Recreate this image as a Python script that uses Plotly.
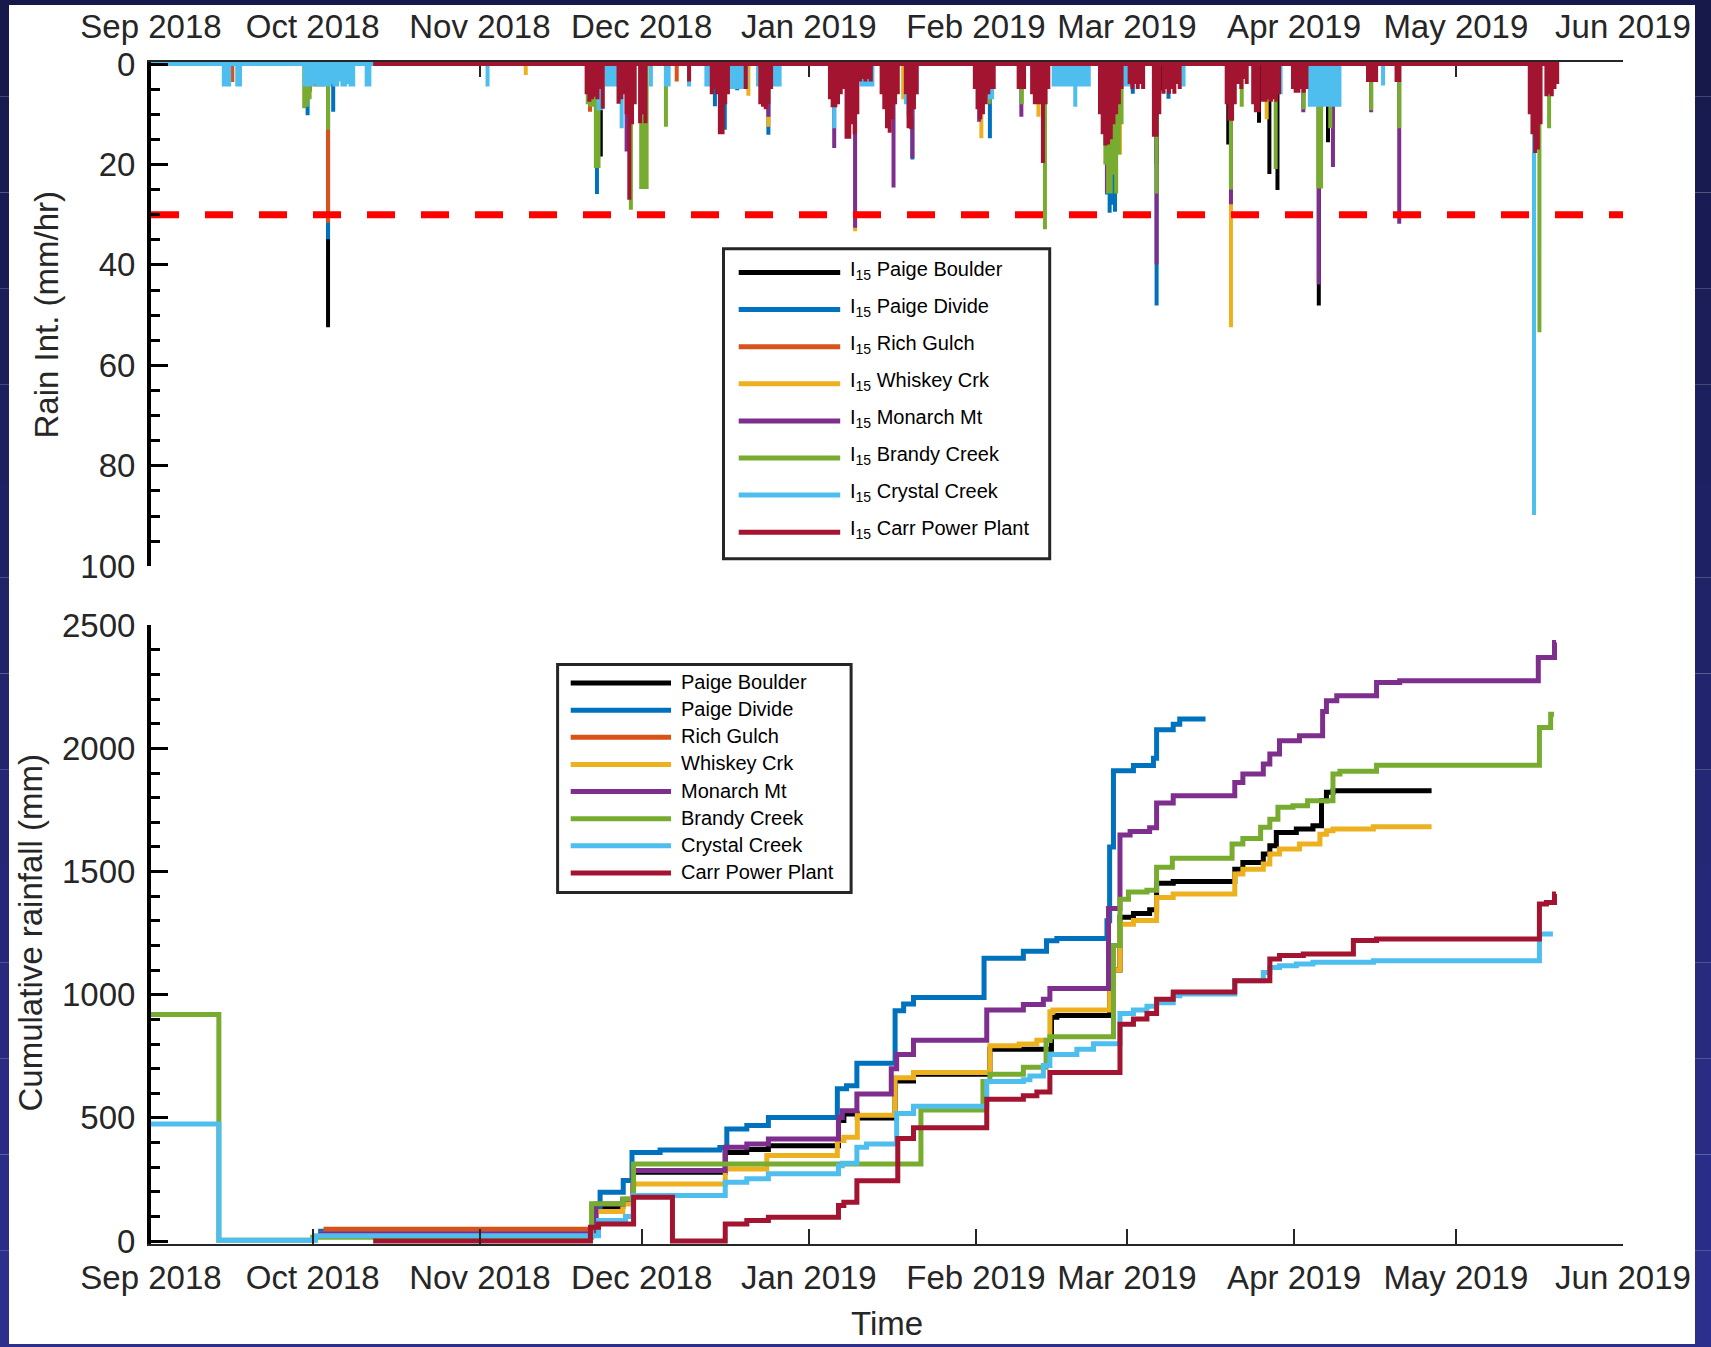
import pandas as pd
import plotly.graph_objects as go

FONT = "Liberation Sans, Arial, Helvetica, sans-serif"
INK = "#262626"

STATIONS = ["Paige Boulder", "Paige Divide", "Rich Gulch", "Whiskey Crk",
            "Monarch Mt", "Brandy Creek", "Crystal Creek", "Carr Power Plant"]
COLORS = ["#000000", "#0072BD", "#D95319", "#EDB120",
          "#7E2F8E", "#77AC30", "#4DBEEE", "#A2142F"]

# ---------------------------------------------------------------------------
# 15-minute rain intensity I15 (mm/hr).
# Record window of each gauge, then bursts: (start time, [I15 values]),
# consecutive values in a burst are 12 h apart.
# ---------------------------------------------------------------------------
I15_STEP_H = 12

PB_SPAN = ("2018-10-02", "2019-04-26 12:00")
PB_I15 = [
    ("2018-10-03 20:00", [52.4]),
    ("2018-11-23 10:00", [18.4]),
    ("2019-03-06 12:00", [20.0]),
    ("2019-03-07 12:00", [5.2]),
    ("2019-03-19 19:00", [16.0]),
    ("2019-03-25 12:00", [11.7]),
    ("2019-03-27 10:00", [21.9]),
    ("2019-03-28 22:00", [25.1]),
    ("2019-04-05 14:00", [48.1]),
    ("2019-04-07 07:00", [15.6]),
]

PD_SPAN = ("2018-09-14", "2019-03-15 14:00")
PD_I15 = [
    ("2018-09-30 01:00", [10.2]),
    ("2018-10-03 20:00", [34.9]),
    ("2018-10-04 19:00", [9.5]),
    ("2018-11-22 17:00", [25.9]),
    ("2018-12-14 14:00", [8.4]),
    ("2018-12-16 10:00", [13.1]),
    ("2018-12-18 17:00", [5.2]),
    ("2018-12-24 12:00", [14.1]),
    ("2019-01-20 05:00", [19.0]),
    ("2019-02-03 14:00", [14.8]),
    ("2019-02-25 07:00", [26.0, 29.6, 28.0, 29.4]),
    ("2019-03-02 02:00", [5.9]),
    ("2019-03-06 12:00", [48.1]),
    ("2019-03-08 17:00", [6.9]),
]

RG_SPAN = ("2018-09-01", "2018-12-10")
RG_I15 = [
    ("2018-09-16 02:00", [3.6]),
    ("2018-09-30 12:00", [5.5]),
    ("2018-10-03 20:00", [31.6]),
    ("2018-11-21 10:00", [9.5]),
    ("2018-12-07 12:00", [3.5]),
]

WC_SPAN = ("2018-10-02", "2019-04-26 12:00")
WC_I15 = [
    ("2018-11-09 12:00", [2.2]),
    ("2018-12-20 19:00", [6.3]),
    ("2018-12-24 12:00", [12.5]),
    ("2019-01-09 14:00", [33.3]),
    ("2019-01-18 12:00", [7.0]),
    ("2019-02-02 00:00", [14.8]),
    ("2019-02-12 14:00", [10.5]),
    ("2019-02-27 17:00", [18.0]),
    ("2019-03-20 07:00", [52.4]),
    ("2019-03-26 22:00", [11.0]),
]

MM_SPAN = ("2018-10-02", "2019-05-19 14:00")
MM_I15 = [
    ("2018-11-28 05:00", [17.4]),
    ("2018-12-24 12:00", [10.5]),
    ("2019-01-05 17:00", [16.7]),
    ("2019-01-09 14:00", [32.6]),
    ("2019-01-16 17:00", [24.6]),
    ("2019-01-20 05:00", [18.7]),
    ("2019-02-01 14:00", [11.5]),
    ("2019-02-09 10:00", [10.5]),
    ("2019-02-25 07:00", [25.5]),
    ("2019-03-06 12:00", [39.9]),
    ("2019-03-20 07:00", [27.9]),
    ("2019-04-02 17:00", [9.6]),
    ("2019-04-05 14:00", [43.9]),
    ("2019-04-08 05:00", [20.5]),
    ("2019-04-15 07:00", [9.6]),
    ("2019-04-20 12:00", [31.8]),
]

BC_SPAN = ("2018-09-01", "2019-05-19 14:00")
BC_I15 = [
    ("2018-09-29 10:00", [8.8, 8.5, 7.0]),
    ("2018-10-01 10:00", [4.5, 4.5, 4.5, 4.5]),
    ("2018-10-03 20:00", [13.1]),
    ("2018-11-21 00:00", [8.0, 8.5, 8.5, 20.7, 20.7]),
    ("2018-11-29 00:00", [29.0]),
    ("2018-11-30 22:00", [24.9, 24.9, 24.9]),
    ("2018-12-05 12:00", [12.5]),
    ("2019-02-03 12:00", [7.9]),
    ("2019-02-09 12:00", [8.0]),
    ("2019-02-13 19:00", [32.9]),
    ("2019-02-25 00:00", [20.0, 25.8, 25.8, 22.0, 25.8, 18.0, 12.0]),
    ("2019-03-06 12:00", [25.8]),
    ("2019-03-20 07:00", [25.0]),
    ("2019-03-22 07:00", [8.5]),
    ("2019-03-28 14:00", [20.9]),
    ("2019-04-02 19:00", [9.0]),
    ("2019-04-05 12:00", [24.8, 24.8]),
    ("2019-04-07 17:00", [12.8]),
    ("2019-04-15 07:00", [9.2]),
    ("2019-04-20 12:00", [12.8]),
    ("2019-05-16 12:00", [53.4]),
    ("2019-05-18 07:00", [12.8]),
]

CC_SPAN = ("2018-09-01", "2019-05-20")
CC_I15 = [
    ("2018-09-14 12:00", [4.5, 4.5, 4.5]),
    ("2018-09-17 00:00", [4.5, 4.5]),
    ("2018-09-29 12:00", [4.5, 4.5, 4.5, 4.5, 4.0, 4.5, 4.5, 4.5, 4.5, 4.5,
                          4.0, 4.5, 4.5, 3.5, 4.5, 4.5, 4.0, 4.5, 4.5]),
    ("2018-10-11 00:00", [4.5, 4.5]),
    ("2018-11-02 10:00", [4.5]),
    ("2018-11-23 00:00", [9.2, 9.2]),
    ("2018-11-24 12:00", [4.5, 4.5, 4.5, 4.5, 4.5]),
    ("2018-11-27 07:00", [12.8]),
    ("2018-12-02 17:00", [4.5]),
    ("2018-12-05 12:00", [4.5, 4.5]),
    ("2018-12-09 19:00", [4.5]),
    ("2018-12-13 00:00", [4.5, 4.5, 4.5]),
    ("2018-12-17 10:00", [5.0, 5.0, 5.0, 5.0, 5.0, 5.0, 5.0]),
    ("2018-12-22 14:00", [4.5, 4.5, 4.5, 4.5, 4.5, 4.5, 4.5, 4.5, 4.5]),
    ("2019-01-05 17:00", [12.8]),
    ("2019-01-10 19:00", [4.5, 4.5, 4.5, 4.5, 4.5]),
    ("2019-01-19 00:00", [8.0, 10.5, 10.5, 8.0, 6.0]),
    ("2019-02-02 00:00", [7.0, 7.0, 7.0, 7.0, 7.0]),
    ("2019-02-15 10:00", [4.5, 4.5, 4.5, 4.5, 4.5, 4.5, 4.5, 4.5, 8.5, 4.5,
                          4.5, 4.5, 4.5, 4.5]),
    ("2019-02-28 10:00", [4.5, 4.5, 4.5]),
    ("2019-03-11 12:00", [4.5]),
    ("2019-03-29 12:00", [6.0]),
    ("2019-04-03 22:00", [8.5, 8.5, 8.5, 8.5, 8.5, 8.5, 8.5, 8.5, 8.5, 8.5,
                          8.5, 8.5]),
    ("2019-04-17 12:00", [4.3]),
    ("2019-05-15 12:00", [89.8]),
]

CARR_SPAN = ("2018-10-12 05:00", "2019-05-20")
CARR_I15 = [
    ("2018-11-20 19:00", [6.0, 7.5, 7.0, 6.5, 7.0, 5.0, 8.9]),
    ("2018-11-26 17:00", [7.9, 7.0, 6.0]),
    ("2018-11-28 05:00", [10.0, 27.0, 12.0, 8.0]),
    ("2018-11-30 17:00", [11.8, 10.0, 11.8]),
    ("2018-12-09 19:00", [3.5]),
    ("2018-12-14 00:00", [6.0, 5.0, 6.0, 14.0, 14.0, 8.0, 6.0]),
    ("2018-12-20 07:00", [5.0]),
    ("2018-12-23 00:00", [8.0, 8.5, 9.0, 8.0, 5.0]),
    ("2019-01-04 22:00", [7.0, 8.6, 8.6, 8.0, 6.0, 5.0]),
    ("2019-01-08 00:00", [14.9, 14.9, 12.0, 14.0, 10.0]),
    ("2019-01-10 12:00", [3.5, 3.0, 3.5, 3.0, 3.5]),
    ("2019-01-14 12:00", [6.0, 9.0, 12.8, 13.7, 11.0, 8.0, 6.0]),
    ("2019-01-19 00:00", [6.0, 12.8, 13.0, 9.0, 6.0]),
    ("2019-01-31 19:00", [5.0, 9.0, 11.0, 10.0, 8.0, 6.0, 5.0, 5.0]),
    ("2019-02-08 22:00", [5.0, 5.0, 5.0]),
    ("2019-02-11 10:00", [6.0, 8.0, 8.0, 8.0, 19.7, 8.0, 5.0]),
    ("2019-02-24 00:00", [10.0, 14.0, 16.2, 16.0, 15.0, 12.0, 10.0, 8.0, 5.0]),
    ("2019-03-01 12:00", [4.0, 5.0, 4.0, 5.0, 4.0, 5.0]),
    ("2019-03-06 00:00", [14.5, 14.5, 10.0]),
    ("2019-03-07 19:00", [5.9, 5.0, 5.9, 5.0, 5.9, 4.0, 5.0]),
    ("2019-03-19 12:00", [8.0, 11.3, 11.3, 8.0]),
    ("2019-03-21 17:00", [4.0, 5.0, 3.0, 4.0]),
    ("2019-03-24 10:00", [8.0, 9.6, 9.6]),
    ("2019-03-26 05:00", [7.5, 7.5, 7.0, 7.5, 7.0, 7.5, 6.0]),
    ("2019-03-31 19:00", [5.0, 5.7, 5.7, 5.0, 5.7, 5.0]),
    ("2019-04-14 17:00", [3.6, 3.6, 3.6, 3.6]),
    ("2019-04-20 00:00", [3.6, 3.6]),
    ("2019-05-14 17:00", [10.0, 14.0, 17.7, 17.0, 12.0]),
    ("2019-05-17 19:00", [6.4, 6.0, 6.4, 5.0, 4.0]),
]

I15_THRESHOLD = 30.0  # mm/hr

# ---------------------------------------------------------------------------
# Cumulative rainfall (mm): (time, total from that time on)
# ---------------------------------------------------------------------------
PB_CUM = [("2018-10-02", 30), ("2018-11-22 12:00", 140), ("2018-11-27 12:00", 160),
          ("2018-11-29 10:00", 279), ("2018-12-16 12:00", 360), ("2018-12-20 12:00", 372),
          ("2018-12-24 12:00", 387), ("2019-01-06 12:00", 489), ("2019-01-07 12:00", 516),
          ("2019-01-10", 500), ("2019-01-17", 650), ("2019-01-20 10:00", 677),
          ("2019-02-03 14:00", 779), ("2019-02-15", 909), ("2019-02-16", 916),
          ("2019-02-25 19:00", 1100), ("2019-02-27 17:00", 1315), ("2019-03-02 05:00", 1330),
          ("2019-03-05 05:00", 1345), ("2019-03-06 12:00", 1453), ("2019-03-09 14:00", 1460),
          ("2019-03-21", 1510), ("2019-03-22 12:00", 1537), ("2019-03-26 07:00", 1571),
          ("2019-03-27 12:00", 1605), ("2019-03-28 17:00", 1659), ("2019-04-01 10:00", 1673),
          ("2019-04-04 12:00", 1686), ("2019-04-06 02:00", 1788), ("2019-04-07", 1822),
          ("2019-04-08 05:00", 1828), ("2019-04-26 12:00", 1828)]

PD_CUM = [("2018-10-02", 40), ("2018-11-22", 137), ("2018-11-23 07:00", 198),
          ("2018-11-27 14:00", 246), ("2018-11-29 05:00", 360), ("2018-12-04 10:00", 370),
          ("2018-12-15 12:00", 380), ("2018-12-16 19:00", 455), ("2018-12-20 12:00", 469),
          ("2018-12-24 12:00", 502), ("2019-01-06 07:00", 618), ("2019-01-08", 631),
          ("2019-01-09 22:00", 722), ("2019-01-17", 935), ("2019-01-18 14:00", 962),
          ("2019-01-20 10:00", 989), ("2019-02-02 12:00", 1148), ("2019-02-09 19:00", 1177),
          ("2019-02-14 02:00", 1219), ("2019-02-16", 1228), ("2019-02-25 07:00", 1300),
          ("2019-02-25 19:00", 1600), ("2019-02-26 12:00", 1909), ("2019-03-02 05:00", 1931),
          ("2019-03-05 22:00", 1960), ("2019-03-06 12:00", 2076), ("2019-03-09 14:00", 2098),
          ("2019-03-10 19:00", 2120), ("2019-03-15 14:00", 2120)]

RG_CUM = [("2018-10-03", 48), ("2018-11-22", 48)]

WC_CUM = [("2018-10-02", 30), ("2018-11-22 12:00", 120), ("2018-11-27 12:00", 150),
          ("2018-11-29 10:00", 232), ("2018-12-16 12:00", 293), ("2018-12-24 05:00", 347),
          ("2019-01-06 07:00", 408), ("2019-01-07 12:00", 421), ("2019-01-10", 511),
          ("2019-01-17", 663), ("2019-01-20 10:00", 684), ("2019-02-03 14:00", 793),
          ("2019-02-09", 800), ("2019-02-12 07:00", 815), ("2019-02-14 17:00", 931),
          ("2019-02-15 07:00", 938), ("2019-02-25 19:00", 1100), ("2019-02-27 17:00", 1286),
          ("2019-03-02 05:00", 1301), ("2019-03-06 12:00", 1395), ("2019-03-09 14:00", 1409),
          ("2019-03-21", 1490), ("2019-03-22 12:00", 1510), ("2019-03-26 07:00", 1531),
          ("2019-03-27 12:00", 1571), ("2019-03-29 07:00", 1592), ("2019-04-02", 1612),
          ("2019-04-05 19:00", 1652), ("2019-04-07", 1666), ("2019-04-08 05:00", 1673),
          ("2019-04-15 17:00", 1682), ("2019-04-26 12:00", 1682)]

MM_CUM = [("2018-10-02", 30), ("2018-11-22 12:00", 150), ("2018-11-27 12:00", 170),
          ("2018-11-29 10:00", 286), ("2018-12-16 12:00", 381), ("2018-12-20 12:00", 394),
          ("2018-12-24 12:00", 414), ("2019-01-06 12:00", 502), ("2019-01-07 05:00", 529),
          ("2019-01-09 22:00", 597), ("2019-01-16 07:00", 700), ("2019-01-17 07:00", 757),
          ("2019-01-20 10:00", 815), ("2019-02-03", 938), ("2019-02-09 19:00", 960),
          ("2019-02-13 12:00", 982), ("2019-02-14 17:00", 1025), ("2019-02-25 14:00", 1350),
          ("2019-02-27 17:00", 1649), ("2019-03-01 14:00", 1663), ("2019-03-05 05:00", 1678),
          ("2019-03-06 12:00", 1779), ("2019-03-09 14:00", 1808), ("2019-03-21", 1862),
          ("2019-03-22 12:00", 1896), ("2019-03-26 07:00", 1937), ("2019-03-27 12:00", 1977),
          ("2019-03-29 07:00", 2031), ("2019-04-02", 2052), ("2019-04-06 07:00", 2150),
          ("2019-04-07", 2194), ("2019-04-08 22:00", 2214), ("2019-04-16 07:00", 2268),
          ("2019-04-20 14:00", 2275), ("2019-05-16 07:00", 2369), ("2019-05-19 07:00", 2430),
          ("2019-05-19 14:00", 2430)]

BC_CUM = [("2018-09-01", 920), ("2018-09-13 14:00", 3), ("2018-10-01", 15),
          ("2018-11-21 17:00", 151), ("2018-11-27 12:00", 171), ("2018-11-29 12:00", 313),
          ("2019-01-21 19:00", 532), ("2019-02-02 07:00", 648), ("2019-02-03 14:00", 677),
          ("2019-02-09 19:00", 706), ("2019-02-14", 815), ("2019-02-14 17:00", 829),
          ("2019-02-26 12:00", 1200), ("2019-02-27 17:00", 1388), ("2019-03-01 07:00", 1417),
          ("2019-03-04 17:00", 1424), ("2019-03-06 12:00", 1518), ("2019-03-09 10:00", 1554),
          ("2019-03-20 12:00", 1612), ("2019-03-22 12:00", 1634), ("2019-03-25 19:00", 1680),
          ("2019-03-27 12:00", 1713), ("2019-03-29", 1761), ("2019-03-31 19:00", 1767),
          ("2019-04-03 12:00", 1788), ("2019-04-08 05:00", 1896), ("2019-04-09 12:00", 1907),
          ("2019-04-16 07:00", 1932), ("2019-05-16 12:00", 2085), ("2019-05-18 14:00", 2139),
          ("2019-05-19 05:00", 2139)]

CC_CUM = [("2018-09-01", 475), ("2018-09-13 14:00", 3), ("2018-10-01 12:00", 22),
          ("2018-11-23", 83), ("2018-11-28", 100), ("2018-11-29 10:00", 185),
          ("2018-12-16 12:00", 239), ("2018-12-20 12:00", 253), ("2018-12-24 12:00", 273),
          ("2019-01-06 12:00", 306), ("2019-01-07 05:00", 316), ("2019-01-09 22:00", 381),
          ("2019-01-11 17:00", 394), ("2019-01-17 07:00", 518), ("2019-01-20 10:00", 547),
          ("2019-02-03", 648), ("2019-02-09 19:00", 655), ("2019-02-11", 670),
          ("2019-02-13 12:00", 713), ("2019-02-14 17:00", 757), ("2019-02-19 17:00", 779),
          ("2019-02-22 19:00", 801), ("2019-02-27 17:00", 924), ("2019-03-02 05:00", 938),
          ("2019-03-04 17:00", 953), ("2019-03-06 12:00", 967), ("2019-03-09 14:00", 996),
          ("2019-03-10 19:00", 1003), ("2019-03-21", 1057), ("2019-03-26 07:00", 1090),
          ("2019-03-27 12:00", 1111), ("2019-03-29 07:00", 1118), ("2019-04-01 10:00", 1125),
          ("2019-04-04 12:00", 1132), ("2019-04-15 17:00", 1138), ("2019-05-16 12:00", 1247),
          ("2019-05-19", 1247)]

CARR_CUM = [("2018-10-12 05:00", 0), ("2018-11-21 12:00", 56), ("2018-11-23", 69),
            ("2018-11-29 12:00", 178), ("2018-12-06 17:00", 0), ("2018-12-16 12:00", 69),
            ("2018-12-20 12:00", 83), ("2018-12-24 12:00", 97), ("2019-01-06 12:00", 144),
            ("2019-01-07 12:00", 158), ("2019-01-09 22:00", 245), ("2019-01-17 12:00", 416),
            ("2019-01-20 10:00", 460), ("2019-02-03", 576), ("2019-02-09 19:00", 590),
            ("2019-02-12 07:00", 605), ("2019-02-14 17:00", 684), ("2019-02-27 17:00", 880),
            ("2019-03-02 05:00", 902), ("2019-03-04 17:00", 924), ("2019-03-06 12:00", 982),
            ("2019-03-09 14:00", 1011), ("2019-03-21", 1057), ("2019-03-27 12:00", 1145),
            ("2019-03-29 07:00", 1159), ("2019-04-02 17:00", 1165), ("2019-04-12", 1220),
            ("2019-04-16 07:00", 1226), ("2019-05-16 12:00", 1368), ("2019-05-17 19:00", 1375),
            ("2019-05-19 07:00", 1409), ("2019-05-19 14:00", 1409)]

SPANS = [PB_SPAN, PD_SPAN, RG_SPAN, WC_SPAN, MM_SPAN, BC_SPAN, CC_SPAN, CARR_SPAN]
I15 = [PB_I15, PD_I15, RG_I15, WC_I15, MM_I15, BC_I15, CC_I15, CARR_I15]
CUM = [PB_CUM, PD_CUM, RG_CUM, WC_CUM, MM_CUM, BC_CUM, CC_CUM, CARR_CUM]

X_RANGE = ["2018-09-01", "2019-06-01"]


def spike_series(span, bursts):
    """Baseline at 0 over the record window with a vertical stroke per I15 value."""
    events = []
    for start, vals in bursts:
        t0 = pd.Timestamp(start)
        for k, v in enumerate(vals):
            events.append((t0 + pd.Timedelta(hours=I15_STEP_H * k), v))
    events.sort(key=lambda e: e[0])
    xs, ys = [pd.Timestamp(span[0])], [0.0]
    for t, v in events:
        xs += [t, t, t]
        ys += [0.0, v, 0.0]
    xs.append(pd.Timestamp(span[1]))
    ys.append(0.0)
    return xs, ys


# ---------------------------------------------------------------------------
# Page geometry (pixels)
# ---------------------------------------------------------------------------
W, H = 1711, 1347
ML, MR, MT, MB = 151, 88, 62, 103
PW, PH = W - ML - MR, H - MT - MB


def fx(px):
    return (px - ML) / PW


def fy(py):
    return (H - MB - py) / PH


fig = go.Figure()

# top panel: I15 strokes
for i, name in enumerate(STATIONS):
    xs, ys = spike_series(SPANS[i], I15[i])
    fig.add_trace(go.Scatter(
        x=xs, y=ys, mode="lines", xaxis="x2", yaxis="y2",
        line=dict(color=COLORS[i], width=4),
        name=f"I15 {name}", showlegend=False, hoverinfo="skip"))

fig.add_trace(go.Scatter(
    x=X_RANGE, y=[I15_THRESHOLD, I15_THRESHOLD], mode="lines",
    xaxis="x2", yaxis="y2", line=dict(color="#FF0000", width=7, dash="28px,26px"),
    name="threshold", showlegend=False, hoverinfo="skip"))

# bottom panel: cumulative rainfall
for i, name in enumerate(STATIONS):
    t = [pd.Timestamp(p[0]) for p in CUM[i]]
    v = [p[1] for p in CUM[i]]
    fig.add_trace(go.Scatter(
        x=t, y=v, mode="lines", line=dict(color=COLORS[i], width=5, shape="hv"),
        name=name, showlegend=False, hoverinfo="skip"))

tickfont = dict(family=FONT, size=33, color=INK)

xcommon = dict(type="date", range=X_RANGE, tick0="2018-09-01", dtick="M1",
               tickformat="%b %Y", ticks="inside", ticklen=15, tickwidth=2,
               tickcolor=INK, showline=True, linecolor=INK, linewidth=2,
               showgrid=False, zeroline=False, tickfont=tickfont, automargin=False)
ycommon = dict(ticks="inside", ticklen=17, tickwidth=3, tickcolor="black",
               showline=True, linecolor="black", linewidth=4, showgrid=False,
               zeroline=False, tickfont=tickfont, ticklabelstandoff=5, automargin=False)

top_lo = fy(566.3)
bot_hi = fy(625.3)

shapes = []
annotations = []

# navy frame around the white page
N = 14
top_c = (22, 25, 74)
bot_c = (44, 47, 140)
for k in range(N):
    a = k / (N - 1)
    c = tuple(int(round(top_c[j] + (bot_c[j] - top_c[j]) * a)) for j in range(3))
    col = "rgb(%d,%d,%d)" % c
    y1 = fy(H * k / N)
    y0 = fy(H * (k + 1) / N)
    shapes.append(dict(type="rect", xref="paper", yref="paper", layer="below",
                       x0=fx(0), x1=fx(9), y0=y0, y1=y1, line_width=0, fillcolor=col))
    shapes.append(dict(type="rect", xref="paper", yref="paper", layer="below",
                       x0=fx(1695), x1=fx(W), y0=y0, y1=y1, line_width=0, fillcolor=col))
shapes.append(dict(type="rect", xref="paper", yref="paper", layer="below",
                   x0=fx(0), x1=fx(W), y0=fy(5), y1=fy(0), line_width=0,
                   fillcolor="rgb(%d,%d,%d)" % top_c))
shapes.append(dict(type="rect", xref="paper", yref="paper", layer="below",
                   x0=fx(0), x1=fx(W), y0=fy(H), y1=fy(1344), line_width=0,
                   fillcolor="rgb(%d,%d,%d)" % bot_c))


def add_key(box, line_x, text_x, row0, row_dy, labels, line_dy):
    """Framed key: a coloured stroke and a label per station."""
    bx0, by0, bx1, by1 = box
    shapes.append(dict(type="rect", xref="paper", yref="paper", layer="above",
                       x0=fx(bx0), x1=fx(bx1), y0=fy(by1), y1=fy(by0),
                       fillcolor="white", line=dict(color=INK, width=3)))
    for k, lab in enumerate(labels):
        yc = row0 + row_dy * k
        shapes.append(dict(type="line", xref="paper", yref="paper", layer="above",
                           x0=fx(line_x[0]), x1=fx(line_x[1]),
                           y0=fy(yc + line_dy), y1=fy(yc + line_dy),
                           line=dict(color=COLORS[k], width=5)))
        annotations.append(dict(text=lab, xref="paper", yref="paper",
                                x=fx(text_x), y=fy(yc), showarrow=False,
                                xanchor="left", yanchor="middle", borderpad=0,
                                font=dict(family=FONT, size=20, color="black")))


add_key((723.5, 248.8, 1049.7, 558.7), (738.7, 840.2), 849.0, 270.0, 37.1,
        ["I<sub>15</sub> " + s for s in STATIONS], 2.5)
add_key((557.6, 664.5, 851.1, 892.6), (570.7, 671.0), 680.0, 682.0, 27.13,
        STATIONS, 1.0)

annotations += [
    dict(text="Rain Int. (mm/hr)", xref="paper", yref="paper",
         x=fx(46), y=fy(314.5), textangle=-90, showarrow=False,
         xanchor="center", yanchor="middle",
         font=dict(family=FONT, size=33, color=INK)),
    dict(text="Cumulative rainfall (mm)", xref="paper", yref="paper",
         x=fx(29.5), y=fy(933), textangle=-90, showarrow=False,
         xanchor="center", yanchor="middle",
         font=dict(family=FONT, size=33, color=INK)),
    dict(text="Time", xref="paper", yref="paper",
         x=0.5, y=fy(1323.6), showarrow=False,
         xanchor="center", yanchor="middle",
         font=dict(family=FONT, size=33, color=INK)),
]

fig.update_layout(
    width=W, height=H,
    margin=dict(l=ML, r=MR, t=MT, b=MB, pad=0, autoexpand=False),
    paper_bgcolor="white", plot_bgcolor="white",
    font=dict(family=FONT, color=INK),
    showlegend=False,
    xaxis=dict(domain=[0, 1], anchor="y", side="bottom", ticklabelstandoff=3, **xcommon),
    yaxis=dict(domain=[0, bot_hi], anchor="x", range=[-12, 2500], tick0=0, dtick=500,
               minor=dict(dtick=100, ticks="inside", ticklen=9, tickwidth=3,
                          tickcolor="black", showgrid=False),
               **ycommon),
    xaxis2=dict(domain=[0, 1], anchor="y2", side="top", layer="below traces",
                ticklabelstandoff=9, **xcommon),
    yaxis2=dict(domain=[top_lo, 1], anchor="x2", range=[100, -0.4], tick0=0, dtick=20,
                minor=dict(dtick=5, ticks="inside", ticklen=9, tickwidth=3,
                           tickcolor="black", showgrid=False),
                **ycommon),
    shapes=shapes,
    annotations=annotations,
)

fig.write_html("out.html")
